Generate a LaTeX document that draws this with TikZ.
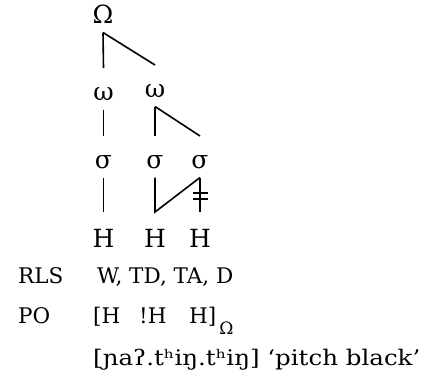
\documentclass[tikz,border=0pt]{standalone}
\usepackage{fontspec}
\setmainfont{DejaVu Serif}
\usetikzlibrary{calc}
\begin{document}
\begin{tikzpicture}[x=1pt,y=-1pt,
  tier/.style={inner sep=0pt, outer sep=0pt, anchor=base,
    text height=32pt, text depth=9.5pt, font=\fontsize{25}{28}\selectfont},
  tone/.style={tier, text height=35pt},
  assoc/.style={line width=1.6pt},
  row/.style={inner sep=0pt, anchor=base west, font=\fontsize{21.5}{26}\selectfont},
]
\useasboundingbox (0,0) rectangle (425,381);

% prosodic tree
\node[tier] (Om) at (103,23) {Ω};
\node[tier] (w1) at (103.5,100) {ω};
\node[tier] (w2) at (155,97) {ω};
\node[tier] (s1) at (103.5,168) {σ};
\node[tier] (s2) at (155,168) {σ};
\node[tier] (s3) at (200,168) {σ};
\node[tone] (H1) at (103.5,247) {H};
\node[tone] (H2) at (155,247) {H};
\node[tone] (H3) at (200,247) {H};

\draw[assoc] (Om.south) -- (w1.north);
\draw[assoc] (Om.south) -- (w2.north);
\draw[assoc] (w1.south) -- (s1.north);
\draw[assoc] (w2.south) -- (s2.north);
\draw[assoc] (w2.south) -- (s3.north);
\draw[assoc] (s1.south) -- (H1.north);
\draw[assoc] (s2.south) -- (H2.north) -- (s3.south);
\draw[assoc] (s3.south) -- coordinate[pos=0.45] (k1) coordinate[pos=0.62] (k2) (H3.north);
% delinking marks
\draw[assoc] (k1) ++(-7.5,0) -- ++(15,0);
\draw[assoc] (k2) ++(-7.5,0) -- ++(15,0);

% rows below
\node[row] (rlsL) at (18,283) {RLS};
\node[row] (rlsV) at (97,283) {W, TD, TA, D};
\node[row] (poL) at (18,323) {PO};
\node[row] (poV) at (93,323) {\makebox[46pt][l]{[H}\makebox[50pt][l]{!H}H]\hspace{3pt}\raisebox{-11pt}{\fontsize{17}{20}\selectfont Ω}};
\node[row] (gloss) at (93,365) {\addfontfeatures{FakeStretch=1.14}[ɲaʔ.tʰiŋ.tʰiŋ] ‘pitch black’};
\end{tikzpicture}
\end{document}
